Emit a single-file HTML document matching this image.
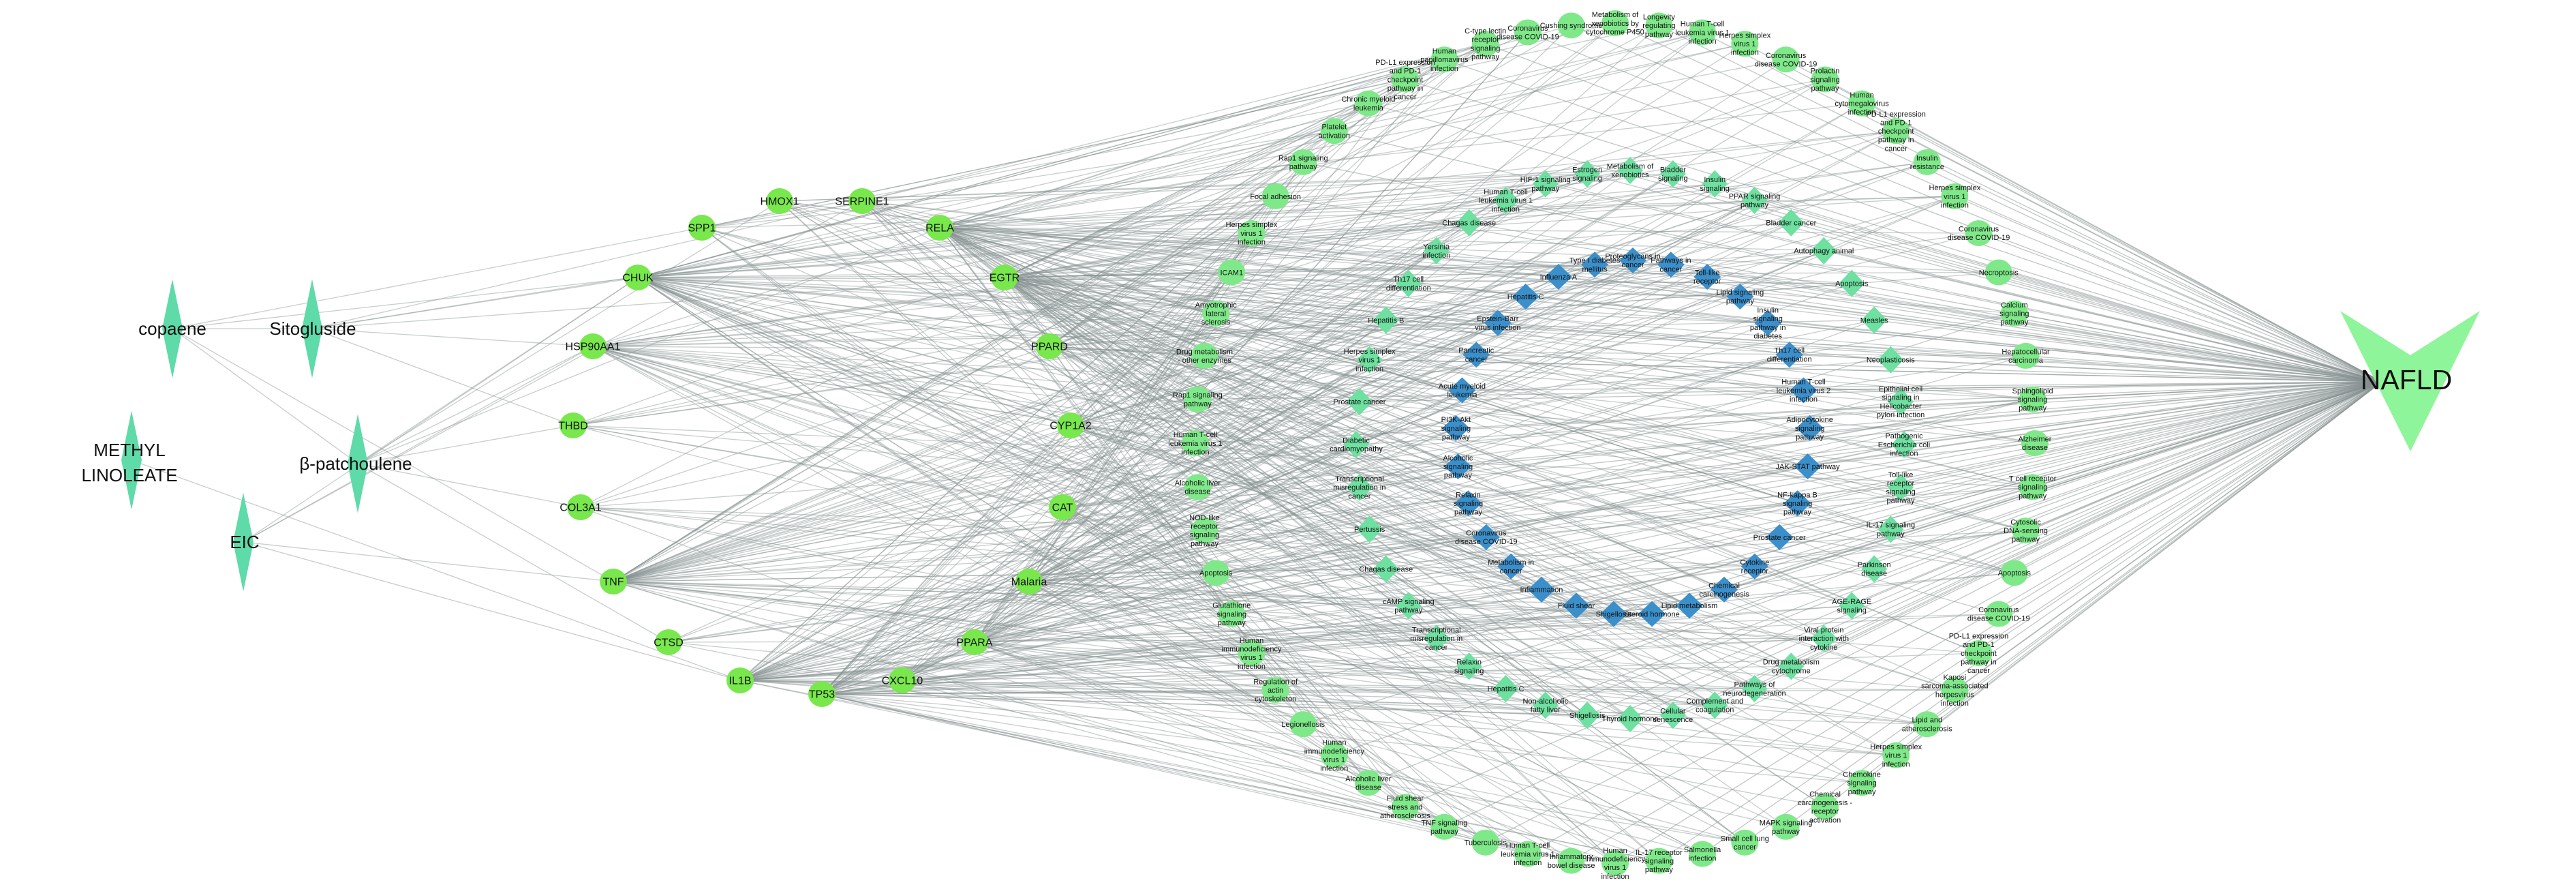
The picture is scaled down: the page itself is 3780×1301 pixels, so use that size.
<!DOCTYPE html>
<html><head><meta charset="utf-8"><style>
html,body{margin:0;padding:0;background:#fff;}
svg{display:block;}
</style></head><body>
<svg id="s" xmlns="http://www.w3.org/2000/svg" width="3780" height="1301" viewBox="0 0 3780 1301">
<rect width="3780" height="1301" fill="#fff"/>
<g id="edges" stroke="#869090" stroke-width="1.3" stroke-opacity="0.5" fill="none"></g>
<g id="nodes"></g>
<g id="labels" font-family="Liberation Sans, sans-serif" text-anchor="middle" fill="#111"></g>
<polygon points="3434,456 3537,521 3639,456 3537,662" fill="#8ff59a"/>
<text x="3531" y="571" font-family="Liberation Sans, sans-serif" font-size="41" text-anchor="middle" fill="#111">NAFLD</text>
</svg>
<script>
const NS='http://www.w3.org/2000/svg';
const E=document.getElementById('edges'),N=document.getElementById('nodes'),L=document.getElementById('labels');
let seed=12345;function rnd(){seed=(seed*16807)%2147483647;return (seed-1)/2147483646;}
function el(t,a,p){const e=document.createElementNS(NS,t);for(const k in a)e.setAttribute(k,a[k]);p.appendChild(e);return e;}
function line(a,b,op){const l=el('line',{x1:a[0],y1:a[1],x2:b[0],y2:b[1]},E);if(op)l.setAttribute('stroke-opacity',op);}
function diamond(x,y,w,h,fill){el('polygon',{points:`${x},${y-h/2} ${x+w/2},${y} ${x},${y+h/2} ${x-w/2},${y}`,fill:fill},N);}
function label(x,y,txt,size,maxc){
  const words=txt.split(' ');const lines=[];let cur='';
  for(const w of words){if(cur&&(cur+' '+w).length>maxc){lines.push(cur);cur=w;}else cur=cur?cur+' '+w:w;}
  if(cur)lines.push(cur);
  const lh=size*1.15;const y0=y-(lines.length-1)*lh/2+size*0.35;
  lines.forEach((s,i)=>{const t=el('text',{x:x,y:y0+i*lh,'font-size':size},L);t.textContent=s;});
}
const comps={copaene:[253,482],Sitogluside:[458,482],ML:[193,675],bp:[525,680],EIC:[357,795]};
const genes={HMOX1:[1144,295,1],SERPINE1:[1265,295,2],SPP1:[1030,334,1],RELA:[1379,334,7],CHUK:[936,407,7],EGTR:[1474,407,6],
HSP90AA1:[870,508,3],PPARD:[1540,508,2],THBD:[841,624,1],CYP1A2:[1571,624,2],COL3A1:[852,744,1],CAT:[1559,744,2],
TNF:[900,853,7],Malaria:[1510,853,3],CTSD:[981,942,1],PPARA:[1430,942,4],IL1B:[1086,998,6],TP53:[1206,1018,5],CXCL10:[1324,998,3]};
const ce=[['copaene','SPP1'],['copaene','Sitogluside'],['copaene','bp'],['copaene','TNF'],['copaene','CHUK'],
['Sitogluside','CHUK'],['Sitogluside','HSP90AA1'],['Sitogluside','SERPINE1'],['Sitogluside','RELA'],['Sitogluside','THBD'],['Sitogluside','EGTR'],
['ML','IL1B'],['bp','CHUK'],['bp','HSP90AA1'],['bp','COL3A1'],['bp','THBD'],['bp','CTSD'],['bp','HMOX1'],['bp','RELA'],
['EIC','TNF'],['EIC','IL1B'],['EIC','CHUK'],['EIC','HSP90AA1'],['EIC','SERPINE1']];
function P(n){return comps[n]||genes[n];}
ce.forEach(e=>line(P(e[0]),P(e[1]),0.45));
const outerNames=["Metabolism of xenobiotics by cytochrome P450","Longevity regulating pathway","Human T-cell leukemia virus 1 infection","Herpes simplex virus 1 infection","Coronavirus disease COVID-19","Prolactin signaling pathway","Human cytomegalovirus infection","PD-L1 expression and PD-1 checkpoint pathway in cancer","Insulin resistance","Herpes simplex virus 1 infection","Coronavirus disease COVID-19","Necroptosis","Calcium signaling pathway","Hepatocellular carcinoma","Sphingolipid signaling pathway","Alzheimer disease","T cell receptor signaling pathway","Cytosolic DNA-sensing pathway","Apoptosis","Coronavirus disease COVID-19","PD-L1 expression and PD-1 checkpoint pathway in cancer","Kaposi sarcoma-associated herpesvirus infection","Lipid and atherosclerosis","Herpes simplex virus 1 infection","Chemokine signaling pathway","Chemical carcinogenesis - receptor activation","MAPK signaling pathway","Small cell lung cancer","Salmonella infection","IL-17 receptor signaling pathway","Human immunodeficiency virus 1 infection","Inflammatory bowel disease","Human T-cell leukemia virus 1 infection","Tuberculosis","TNF signaling pathway","Fluid shear stress and atherosclerosis","Alcoholic liver disease","Human immunodeficiency virus 1 infection","Legionellosis","Regulation of actin cytoskeleton","Human immunodeficiency virus 1 infection","Glutathione signaling pathway","Apoptosis","NOD-like receptor signaling pathway","Alcoholic liver disease","Human T-cell leukemia virus 1 infection","Rap1 signaling pathway","Drug metabolism - other enzymes","Amyotrophic lateral sclerosis","ICAM1","Herpes simplex virus 1 infection","Focal adhesion","Rap1 signaling pathway","Platelet activation","Chronic myeloid leukemia","PD-L1 expression and PD-1 checkpoint pathway in cancer","Human papillomavirus infection","C-type lectin receptor signaling pathway","Coronavirus disease COVID-19","Cushing syndrome"];
const midNames=["Metabolism of xenobiotics","Bladder signaling","Insulin signaling","PPAR signaling pathway","Bladder cancer","Autophagy animal","Apoptosis","Measles","Neoplasticosis","Epithelial cell signaling in Helicobacter pylori infection","Pathogenic Escherichia coli infection","Toll-like receptor signaling pathway","IL-17 signaling pathway","Parkinson disease","AGE-RAGE signaling","Viral protein interaction with cytokine","Drug metabolism cytochrome","Pathways of neurodegeneration","Complement and coagulation","Cellular senescence","Thyroid hormone","Shigellosis","Non-alcoholic fatty liver","Hepatitis C","Relaxin signaling","Transcriptional misregulation in cancer","cAMP signaling pathway","Chagas disease","Pertussis","Transcriptional misregulation in cancer","Diabetic cardiomyopathy","Prostate cancer","Herpes simplex virus 1 infection","Hepatitis B","Th17 cell differentiation","Yersinia infection","Chagas disease","Human T-cell leukemia virus 1 infection","HIF-1 signaling pathway","Estrogen signaling"];
const innerNames=["Proteoglycans in cancer","Pathways in cancer","Toll-like receptor","Lipid signaling pathway","Insulin signaling pathway in diabetes","Th17 cell differentiation","Human T-cell leukemia virus 2 infection","Adipocytokine signaling pathway","JAK-STAT pathway","NF-kappa B signaling pathway","Prostate cancer","Cytokine receptor","Chemical carcinogenesis","Lipid metabolism","Steroid hormone","Shigellosis","Fluid shear","Inflammation","Metabolism in cancer","Coronavirus disease COVID-19","Relaxin signaling pathway","Alcoholic signaling pathway","PI3K-Akt signaling pathway","Acute myeloid leukemia","Pancreatic cancer","Epstein-Barr virus infection","Hepatitis C","Influenza A","Type I diabetes mellitus"];
const NF=[3495,560];
const geneKeys=Object.keys(genes);const wsum=geneKeys.reduce((s,k)=>s+genes[k][2],0);
function pickGene(){let r=rnd()*wsum;for(const k of geneKeys){r-=genes[k][2];if(r<=0)return k;}return geneKeys[0];}
const nodesList=[];
function ring(names,cx,cy,r,type){
  const n=names.length;
  names.forEach((nm,i)=>{const a=-Math.PI/2+i*2*Math.PI/n;nodesList.push([cx+r*Math.cos(a),cy+r*Math.sin(a),nm,type]);});
}
ring(outerNames,2370,650,616,'o');
ring(midNames,2392,652,402,'m');
ring(innerNames,2396,642,260,'i');
nodesList.forEach(p=>{
  line([p[0],p[1]],NF,0.5);
  const k=3+Math.floor(rnd()*6);const used={};
  for(let j=0;j<k;j++){const g=pickGene();if(used[g])continue;used[g]=1;line([genes[g][0],genes[g][1]],[p[0],p[1]],0.45);}
});
for(const k in comps){const c=comps[k];diamond(c[0],c[1],30,145,'#5fdaa9');}
for(const k in genes){const g=genes[k];el('ellipse',{cx:g[0],cy:g[1],rx:20,ry:19,fill:'#78e84c'},N);label(g[0],g[1],k,16,20);}
nodesList.forEach(p=>{
  if(p[3]==='o'){el('ellipse',{cx:p[0],cy:p[1],rx:20,ry:19,fill:'#7fe98a'},N);}
  else if(p[3]==='m'){diamond(p[0],p[1],38,40,'#6ee0a0');}
  else {diamond(p[0],p[1],40,38,'#3b8fca');}
  label(p[0],p[1],p[2],11,16);
});
function tl(x,y,t,s){const e=el('text',{x:x,y:y,'font-size':s},L);e.textContent=t;}
tl(253,491,'copaene',26);tl(459,491,'Sitogluside',26);tl(190,669,'METHYL',26);tl(190,706,'LINOLEATE',26);
tl(522,689,'β-patchoulene',26);tl(359,804,'EIC',26);
</script>
</body></html>
